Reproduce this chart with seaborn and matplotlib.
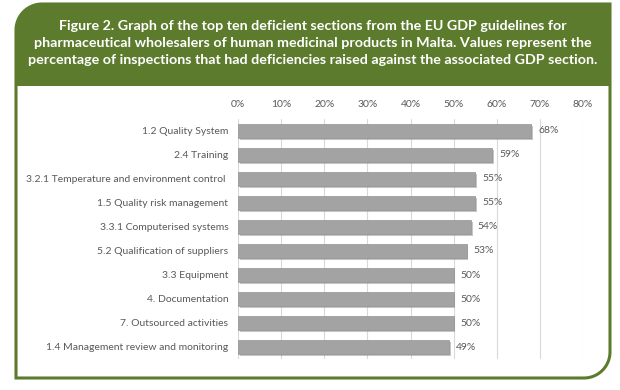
import numpy as np
import matplotlib
matplotlib.use("Agg")
import matplotlib.pyplot as plt
import matplotlib.patheffects as pe
from matplotlib.patches import Polygon
import seaborn as sns
import pandas as pd

# ===============================
# Data
# ===============================
sections = [
    "1.2 Quality System",
    "2.4 Training",
    "3.2.1 Temperature and environment control ",
    "1.5 Quality risk management",
    "3.3.1 Computerised systems",
    "5.2 Qualification of suppliers",
    "3.3 Equipment",
    "4. Documentation",
    "7. Outsourced activities",
    "1.4 Management review and monitoring",
]
percent = [68, 59, 55, 55, 54, 53, 50, 50, 50, 49]
x_ticks = [0, 10, 20, 30, 40, 50, 60, 70, 80]

title = ("Figure 2. Graph of the top ten deficient sections from the EU GDP guidelines for\n"
         "pharmaceutical wholesalers of human medicinal products in Malta. Values represent the\n"
         "percentage of inspections that had deficiencies raised against the associated GDP section.")

df = pd.DataFrame({"section": sections, "percent": percent})

GREEN = "#5c7b2c"
GRAY_TXT = "#595959"

sns.set_style("white")
plt.rcParams["font.family"] = ["Lato", "DejaVu Sans"]

W, H = 620, 390
fig = plt.figure(figsize=(W / 100, H / 100), dpi=100)


# ===============================
# Frame (pixel coords, y down)
# ===============================
def box_path(x0, y0, x1, y1, r_tl=0, r_br=0, n=20):
    pts = []
    if r_tl:
        t = np.linspace(np.pi, 1.5 * np.pi, n)
        pts += list(zip(x0 + r_tl + r_tl * np.cos(t), y0 + r_tl + r_tl * np.sin(t)))
    else:
        pts.append((x0, y0))
    pts.append((x1, y0))
    if r_br:
        t = np.linspace(0, 0.5 * np.pi, n)
        pts += list(zip(x1 - r_br + r_br * np.cos(t), y1 - r_br + r_br * np.sin(t)))
    else:
        pts.append((x1, y1))
    pts.append((x0, y1))
    return pts


bg = fig.add_axes([0, 0, 1, 1], zorder=0)
bg.set_xlim(0, W)
bg.set_ylim(H, 0)
bg.axis("off")
bg.add_patch(Polygon(box_path(16, 4, 610, 86, r_tl=26), closed=True,
                     facecolor=GREEN, edgecolor="none"))
bg.add_patch(Polygon(box_path(16, 4, 610, 378, r_tl=26, r_br=26), closed=True,
                     facecolor="none", edgecolor=GREEN, linewidth=2.2))
bg.text(313, 43, title, ha="center", va="center", color="white",
        fontsize=10.3, fontweight="bold", linespacing=1.47)

# ===============================
# Bar chart
# ===============================
ax = fig.add_axes([238 / W, 1 - 359 / H, (583 - 238) / W, (359 - 119) / H], zorder=1)
ax.patch.set_alpha(0)
sns.barplot(data=df, x="percent", y="section", orient="h", color="#a3a3a3",
            width=0.55, saturation=1, edgecolor="#939393", linewidth=0.5, ax=ax)

for bar in ax.patches:
    bar.set_path_effects([pe.SimplePatchShadow(offset=(1.2, -1.5), shadow_rgbFace="#808080", alpha=0.45),
                          pe.Normal()])

ax.bar_label(ax.containers[0], labels=[f"{v}%" for v in percent],
             padding=5, color=GRAY_TXT, fontsize=7.5)

ax.set_xlim(0, 80)
ax.set_xticks(x_ticks)
ax.set_xticklabels([f"{t}%" for t in x_ticks])
ax.xaxis.tick_top()
ax.tick_params(axis="x", length=0, pad=7, labelsize=7.5, labelcolor=GRAY_TXT)
ax.tick_params(axis="y", length=0, pad=7, labelsize=7.5, labelcolor=GRAY_TXT)
ax.grid(axis="x", color="#d9d9d9", linewidth=0.8)
ax.set_axisbelow(True)
ax.set_xlabel("")
ax.set_ylabel("")
sns.despine(ax=ax, left=True, bottom=True, top=True, right=True)

fig.savefig("out.png", dpi=100)
